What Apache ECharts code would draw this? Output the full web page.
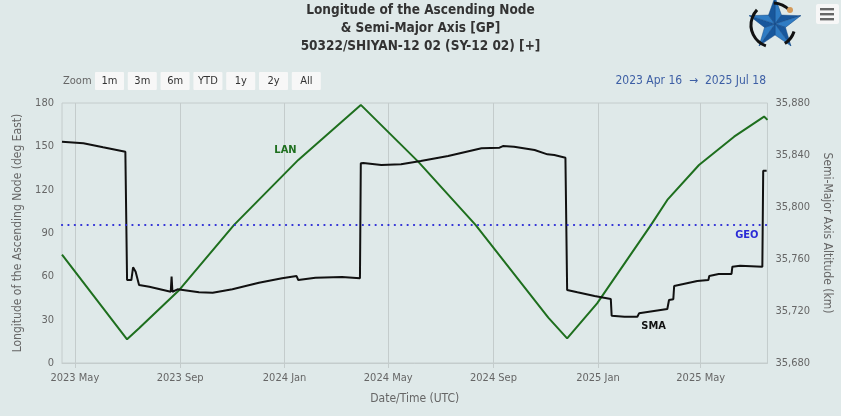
<!DOCTYPE html>
<html lang="en" style="height: 100%">
<head>
    <meta charset="utf-8">
</head>
<body style="height: 100%; margin: 0; background: #dfe9e9">
<div id="container" style="width: 841px; height: 416px"></div>

<script type="text/javascript" src="https://cdn.jsdelivr.net/npm/echarts@6/dist/echarts.min.js"></script>

<script type="text/javascript">
    // LAN (deg East)
    var lanDates = ['2023-04-16', '2023-07-01', '2023-07-15', '2023-08-31', '2023-11-03', '2024-01-17',
        '2024-03-30', '2024-06-05', '2024-08-11', '2024-11-04', '2024-11-26', '2024-12-31',
        '2025-03-04', '2025-03-23', '2025-04-29', '2025-06-09', '2025-07-14', '2025-07-18'];
    var lanValues = [75.0, 16.4, 24.0, 50.6, 95.6, 140.6,
        178.7, 139.4, 95.6, 31.4, 17.1, 41.3,
        95.6, 112.9, 137.1, 156.7, 170.6, 168.3];

    // semi-major axis altitude (km)
    var smaDates = ['2023-04-16', '2023-05-11', '2023-06-03', '2023-06-29', '2023-07-01', '2023-07-06',
        '2023-07-08', '2023-07-11', '2023-07-12', '2023-07-15', '2023-07-27', '2023-08-21',
        '2023-08-22', '2023-08-23', '2023-08-29', '2023-09-23', '2023-10-09', '2023-11-01',
        '2023-12-02', '2023-12-29', '2024-01-15', '2024-01-17', '2024-02-06', '2024-03-08',
        '2024-03-29', '2024-03-30', '2024-04-02', '2024-04-23', '2024-05-16', '2024-06-08',
        '2024-07-10', '2024-08-18', '2024-09-08', '2024-09-12', '2024-09-25', '2024-10-19',
        '2024-11-03', '2024-11-11', '2024-11-24', '2024-11-26', '2024-12-08', '2024-12-28',
        '2025-01-16', '2025-01-17', '2025-02-01', '2025-02-16', '2025-02-18', '2025-03-23',
        '2025-03-25', '2025-03-30', '2025-03-31', '2025-04-27', '2025-05-10', '2025-05-11',
        '2025-05-22', '2025-06-06', '2025-06-07', '2025-06-16', '2025-07-12', '2025-07-13',
        '2025-07-17'];
    var smaValues = [35850.2, 35849.0, 35845.9, 35842.5, 35743.8, 35743.8,
        35753.6, 35750.2, 35749.8, 35740.0, 35738.7, 35734.8,
        35746.4, 35734.8, 35736.7, 35734.4, 35734.0, 35736.7,
        35741.8, 35745.2, 35746.9, 35743.8, 35745.6, 35746.2,
        35745.2, 35833.6, 35833.8, 35832.3, 35832.8, 35835.4,
        35839.2, 35845.2, 35845.6, 35846.9, 35846.4, 35843.8,
        35840.5, 35840.0, 35837.9, 35736.2, 35734.4, 35731.5,
        35729.2, 35716.4, 35715.6, 35715.6, 35718.2, 35721.5,
        35728.5, 35729.0, 35739.2, 35743.1, 35743.8, 35746.9,
        35748.5, 35748.5, 35754.1, 35754.8, 35754.1, 35827.9,
        35827.9];

    var geoAltitude = 35786;

    var tickDates = ['2023-05-01', '2023-09-01', '2024-01-01', '2024-05-01', '2024-09-01', '2025-01-01', '2025-05-01'];
    var tickLabels = ['2023 May', '2023 Sep', '2024 Jan', '2024 May', '2024 Sep', '2025 Jan', '2025 May'];
    var zoomButtons = ['1m', '3m', '6m', 'YTD', '1y', '2y', 'All'];

    var FONT = "'Liberation Sans Narrow', 'DejaVu Sans Condensed', sans-serif";

    function ts(s) {
        return new Date(s + 'T00:00:00Z').getTime();
    }
    function pairs(dates, values) {
        return dates.map(function (d, i) { return [ts(d), values[i]]; });
    }
    var tickValues = tickDates.map(ts);

    var dom = document.getElementById('container');
    var myChart = echarts.init(dom, null, {renderer: 'canvas'});

    // range selector + logo + menu
    var graphics = [];
    graphics.push({
        type: 'text', x: 63, y: 81,
        style: {text: 'Zoom', fill: '#666', font: '11px ' + FONT, verticalAlign: 'middle'}
    });
    zoomButtons.forEach(function (b, i) {
        var x = 95 + i * 32.8;
        graphics.push({
            type: 'rect', shape: {x: x, y: 72, width: 29, height: 18, r: 1},
            style: {fill: '#f7f7f7'}
        });
        graphics.push({
            type: 'text', x: x + 14.5, y: 81,
            style: {text: b, fill: '#333', font: '11px ' + FONT, align: 'center', verticalAlign: 'middle'}
        });
    });
    graphics.push({
        type: 'text', x: 766, y: 81,
        style: {text: '2023 Apr 16  \u2192  2025 Jul 18', fill: '#3d5fa5', font: '12px ' + FONT,
            align: 'right', verticalAlign: 'middle'}
    });
    // star logo with orbit ring
    var cx = 775, cy = 24, R = 27, ri = 11;
    var rc = {cx: 773, cy: 25, r: 22};
    for (var k = 0; k < 10; k++) {
        var a0 = -Math.PI / 2 + k * Math.PI / 5;
        var a1 = -Math.PI / 2 + (k + 1) * Math.PI / 5;
        var r0 = k % 2 === 0 ? R : ri;
        var r1 = k % 2 === 0 ? ri : R;
        graphics.push({
            type: 'polygon',
            shape: {points: [[cx, cy], [cx + r0 * Math.cos(a0), cy + r0 * Math.sin(a0)],
                [cx + r1 * Math.cos(a1), cy + r1 * Math.sin(a1)]]},
            style: {fill: k % 2 === 0 ? '#2f7cc4' : '#18579c', stroke: '#164a86', lineWidth: 0.5}
        });
    }
    [[1.9, 3.9], [0.3, 1.0], [4.75, 5.56]].forEach(function (s) {
        graphics.push({
            type: 'arc', shape: {cx: rc.cx, cy: rc.cy, r: rc.r, startAngle: s[0], endAngle: s[1]},
            style: {stroke: '#111', lineWidth: 3, fill: null}
        });
    });
    graphics.push({type: 'circle', shape: {cx: 790, cy: 10, r: 3}, style: {fill: '#d49a5a'}});
    // menu
    graphics.push({type: 'rect', shape: {x: 816, y: 4, width: 23, height: 20, r: 2}, style: {fill: '#f7f7f7'}});
    [9, 14, 19].forEach(function (y) {
        graphics.push({type: 'rect', shape: {x: 820, y: y - 1, width: 14, height: 2.4}, style: {fill: '#666'}});
    });

    var option = {
        backgroundColor: '#dfe9e9',
        animation: false,
        title: {
            text: 'Longitude of the Ascending Node\n& Semi-Major Axis [GP]\n50322/SHIYAN-12 02 (SY-12 02) [+]',
            left: 'center',
            top: -4,
            textStyle: {fontFamily: FONT, fontSize: 13.5, lineHeight: 18, color: '#333', fontWeight: 'bold'}
        },
        graphic: graphics,
        grid: {
            left: 62, right: 70, top: 103, bottom: 53,
            show: true, borderColor: '#c4cccc', borderWidth: 1
        },
        xAxis: {
            type: 'value',
            min: ts('2023-04-16'),
            max: ts('2025-07-18'),
            name: 'Date/Time (UTC)',
            nameLocation: 'middle',
            nameGap: 30,
            nameTextStyle: {color: '#666', fontFamily: FONT, fontSize: 12},
            axisLine: {lineStyle: {color: '#c4cccc'}},
            axisTick: {show: true, customValues: tickValues, lineStyle: {color: '#c4cccc'}},
            splitLine: {show: true, lineStyle: {color: '#c4cccc'}},
            axisLabel: {
                customValues: tickValues,
                color: '#666', fontFamily: FONT, fontSize: 11, margin: 10,
                formatter: function (v) {
                    var i = tickValues.indexOf(v);
                    return i >= 0 ? tickLabels[i] : '';
                }
            }
        },
        yAxis: [{
            type: 'value', min: 0, max: 180, interval: 30,
            name: 'Longitude of the Ascending Node (deg East)',
            nameLocation: 'middle', nameRotate: 90, nameGap: 32,
            nameTextStyle: {color: '#666', fontFamily: FONT, fontSize: 12},
            axisLine: {show: false}, axisTick: {show: false}, splitLine: {show: false},
            axisLabel: {color: '#666', fontFamily: FONT, fontSize: 11, margin: 8}
        }, {
            type: 'value', min: 35680, max: 35880, interval: 40,
            name: 'Semi-Major Axis Altitude (km)',
            nameLocation: 'middle', nameRotate: -90, nameGap: 52,
            nameTextStyle: {color: '#666', fontFamily: FONT, fontSize: 12},
            axisLine: {show: false}, axisTick: {show: false}, splitLine: {show: false},
            axisLabel: {
                color: '#666', fontFamily: FONT, fontSize: 11, margin: 8,
                formatter: function (v) { return v.toLocaleString('en-US'); }
            }
        }],
        series: [{
            name: 'LAN',
            type: 'line',
            yAxisIndex: 0,
            showSymbol: false,
            data: pairs(lanDates, lanValues),
            lineStyle: {color: '#1e6f1e', width: 2},
            itemStyle: {color: '#1e6f1e'},
            markPoint: {
                symbol: 'circle', symbolSize: 0, silent: true,
                label: {show: true, formatter: 'LAN', color: '#1e6f1e', fontWeight: 'bold', fontFamily: FONT, fontSize: 11},
                data: [{coord: [ts('2024-01-02'), 147.5]}]
            }
        }, {
            name: 'SMA',
            type: 'line',
            yAxisIndex: 1,
            showSymbol: false,
            data: pairs(smaDates, smaValues),
            lineStyle: {color: '#111', width: 2},
            itemStyle: {color: '#111'},
            markPoint: {
                symbol: 'circle', symbolSize: 0, silent: true,
                label: {show: true, formatter: 'SMA', color: '#111', fontWeight: 'bold', fontFamily: FONT, fontSize: 11},
                data: [{coord: [ts('2025-03-07'), 35708.5]}]
            },
            markLine: {
                silent: true, symbol: 'none',
                lineStyle: {type: [0.1, 6.3], color: '#2b2bd6', width: 2.2, cap: 'round'},
                label: {show: true, formatter: 'GEO', position: 'insideEndBottom', color: '#2b2bd6',
                    fontWeight: 'bold', fontFamily: FONT, fontSize: 11, distance: [9, 4]},
                data: [{yAxis: geoAltitude}]
            }
        }]
    };
    myChart.setOption(option);

    window.addEventListener('resize', myChart.resize);
</script>
</body>
</html>
